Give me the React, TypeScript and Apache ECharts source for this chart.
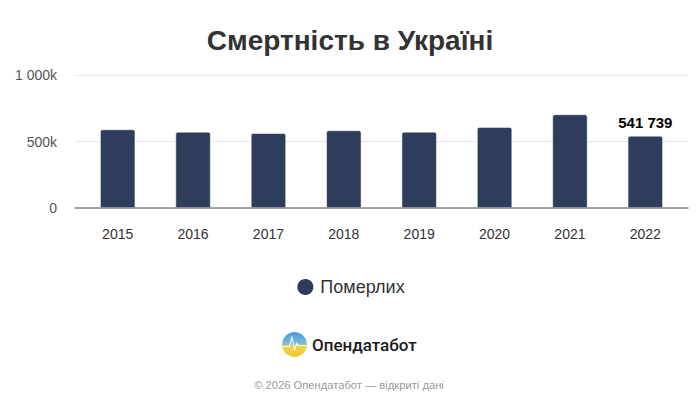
import React, { useEffect, useRef } from "react";
import * as echarts from "echarts";

const categories = ["2015", "2016", "2017", "2018", "2019", "2020", "2021", "2022"];
const deaths = [590000, 572000, 562000, 583000, 572000, 608000, 703000, 541739];
const labelledIndex = 7;
const yTickLabels = ["0", "500k", "1 000k"];
const seriesName = "Померлих";
const titleText = "Смертність в Україні";
const footerText = "© 2026 Опендатабот — відкриті дані";
const brandText = "Опендатабот";

const FONT = "'Liberation Sans', Arial, sans-serif";
const BAR = "#2e3d5c";

function formatThousands(v: number): string {
  return String(Math.round(v)).replace(/\B(?=(\d{3})+(?!\d))/g, " ");
}

export default function App() {
  const ref = useRef<HTMLDivElement>(null);
  useEffect(() => {
    if (!ref.current) return;
    const chart = echarts.init(ref.current, null, { renderer: "svg" });
    const gridTop = 75;
    const gridHeight = 133;
    chart.setOption({
      animation: false,
      backgroundColor: "#ffffff",
      title: {
        text: titleText,
        left: "center",
        top: 21,
        textStyle: { fontFamily: FONT, fontSize: 28, fontWeight: "bold", color: "#333333" },
      },
      legend: {
        data: [seriesName],
        left: "center",
        top: 272,
        icon: "circle",
        itemWidth: 18,
        itemHeight: 18,
        itemGap: 5,
        textStyle: { fontFamily: FONT, fontSize: 18, color: "#333333", padding: [0, 0, 0, 1] },
      },
      grid: [
        { left: 75, right: 12, top: gridTop, height: gridHeight },
        { left: 80, right: 17, top: gridTop, height: gridHeight },
      ],
      xAxis: [
        {
          type: "category",
          gridIndex: 0,
          data: categories,
          axisLine: { show: true, lineStyle: { color: "#888888", width: 1.5 } },
          axisTick: { show: false },
          axisLabel: { show: false },
          splitLine: { show: false },
          z: 5,
        },
        {
          type: "category",
          gridIndex: 1,
          data: categories,
          axisLine: { show: false },
          axisTick: { show: false },
          axisLabel: { fontFamily: FONT, fontSize: 14, color: "#333333", margin: 19 },
        },
      ],
      yAxis: [
        {
          type: "value",
          gridIndex: 0,
          min: 0,
          max: 1000000,
          interval: 500000,
          axisLine: { show: false },
          axisTick: { show: false },
          axisLabel: {
            fontFamily: FONT,
            fontSize: 14,
            color: "#555555",
            margin: 18,
            formatter: (v: number) => yTickLabels[Math.round(v / 500000)] ?? "",
          },
          splitLine: { lineStyle: { color: "#e6e6e6", width: 1 } },
        },
        {
          type: "value",
          gridIndex: 1,
          min: 0,
          max: 1000000,
          interval: 500000,
          show: false,
          splitLine: { show: false },
        },
      ],
      series: [
        {
          name: seriesName,
          type: "bar",
          xAxisIndex: 1,
          yAxisIndex: 1,
          barWidth: 35,
          itemStyle: { color: BAR, borderRadius: [2, 2, 0, 0], borderColor: "#ffffff", borderWidth: 0.5 },
          label: {
            show: false,
            position: "top",
            distance: 6,
            fontFamily: FONT,
            fontSize: 15,
            fontWeight: "bold",
            color: "#000000",
            formatter: (p: any) => formatThousands(p.value),
          },
          data: deaths.map((v, i) => (i === labelledIndex ? { value: v, label: { show: true } } : v)),
        },
      ],
      graphic: [
        {
          type: "group",
          x: 294.5,
          y: 344.5,
          children: [
            {
              type: "circle",
              shape: { cx: 0, cy: 0, r: 12.5 },
              style: {
                fill: new echarts.graphic.LinearGradient(0, 0, 0, 1, [
                  { offset: 0, color: "#3f9be0" },
                  { offset: 0.45, color: "#7fb9d8" },
                  { offset: 0.6, color: "#f3d34a" },
                  { offset: 1, color: "#f0c62a" },
                ]),
              },
            },
            {
              type: "polyline",
              shape: { points: [[-12, 2], [-5, 2], [-2.5, -8], [0, 6], [2, -1], [4, 1], [12, 1]] },
              style: { stroke: "#ffffff", lineWidth: 1.2, fill: "none", opacity: 0.85 },
            },
          ],
        },
        {
          type: "text",
          x: 312,
          y: 345,
          style: {
            text: brandText,
            fontFamily: "Roboto, 'Noto Sans', sans-serif",
            fontSize: 17,
            fontWeight: 500,
            fill: "#1a1a1a",
            verticalAlign: "middle",
            align: "left",
          },
        },
        {
          type: "text",
          x: 349,
          y: 385,
          style: {
            text: footerText,
            fontFamily: FONT,
            fontSize: 11.2,
            fill: "#9a9a9a",
            align: "center",
            verticalAlign: "middle",
          },
        },
      ],
    });
    return () => chart.dispose();
  }, []);
  return <div ref={ref} style={{ width: 700, height: 408, position: "absolute", left: 0, top: 0 }} />;
}
